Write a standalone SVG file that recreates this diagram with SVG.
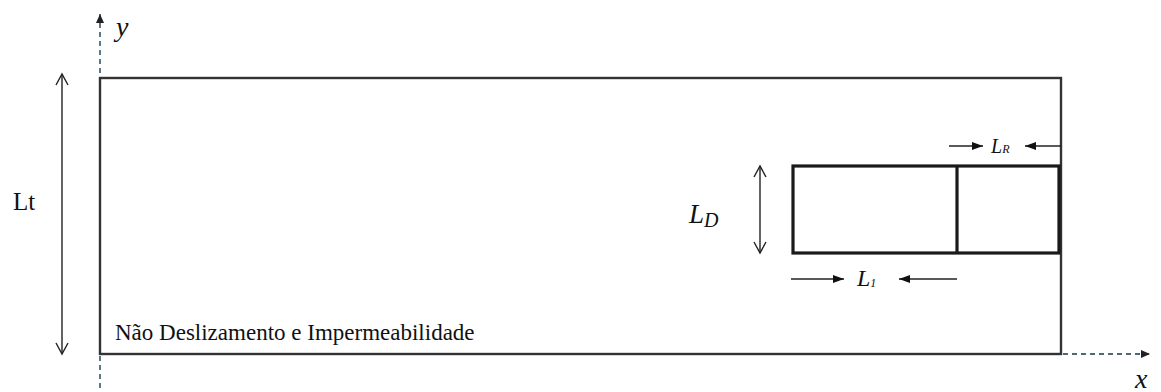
<svg xmlns="http://www.w3.org/2000/svg" width="1161" height="392" viewBox="0 0 1161 392">
<style>
.it{font-style:italic}
.axis{stroke:#4a6a7a;stroke-width:1.8;stroke-dasharray:5,4;fill:none}
.dim{stroke:#222;stroke-width:1.4;fill:none}
.box{stroke:#1a1a1a;stroke-width:3.2;fill:none}
</style>
<defs>
<marker id="open" markerWidth="14" markerHeight="14" refX="12" refY="7" orient="auto-start-reverse" markerUnits="userSpaceOnUse">
<path d="M1,1 L12,7 L1,13" fill="none" stroke="#222" stroke-width="1.4"/>
</marker>
<marker id="solid" markerWidth="12" markerHeight="10" refX="11" refY="5" orient="auto" markerUnits="userSpaceOnUse">
<path d="M0,1 L11,5 L0,9 Z" fill="#111"/>
</marker>
<marker id="axhead" markerWidth="10" markerHeight="10" refX="9" refY="5" orient="auto" markerUnits="userSpaceOnUse">
<path d="M0,1 L9,5 L0,9 Z" fill="#222"/>
</marker>
</defs>
<g font-family="'Liberation Serif', 'DejaVu Serif', serif" fill="#111">
<g id="axes">
<line class="axis" x1="100" y1="388" x2="100" y2="14" marker-end="url(#axhead)"/>
<line class="axis" x1="100" y1="354" x2="1150" y2="354" marker-end="url(#axhead)"/>
<text class="it" x="116" y="36" font-size="28">y</text>
<text class="it" x="1135" y="388" font-size="28">x</text>
</g>
<g id="domain">
<rect x="100" y="78" width="961" height="276" fill="none" stroke="#333" stroke-width="2.4"/>
<text x="115" y="340" font-size="23">Não Deslizamento e Impermeabilidade</text>
</g>
<g id="body">
<rect class="box" x="793" y="166" width="266" height="87"/>
<line class="box" x1="957" y1="166" x2="957" y2="253"/>
</g>
<g id="connectors">
<line class="dim" x1="62" y1="74" x2="62" y2="354" marker-start="url(#open)" marker-end="url(#open)"/>
<line class="dim" x1="760" y1="166" x2="760" y2="253" marker-start="url(#open)" marker-end="url(#open)"/>
<line class="dim" x1="791" y1="279" x2="844" y2="279" marker-end="url(#solid)"/>
<line class="dim" x1="957" y1="279" x2="899" y2="279" marker-end="url(#solid)"/>
<line class="dim" x1="949" y1="146" x2="983" y2="146" marker-end="url(#solid)"/>
<line class="dim" x1="1061" y1="146" x2="1025" y2="146" marker-end="url(#solid)"/>
</g>
<g id="labels">
<text x="13" y="210" font-size="25">Lt</text>
<text class="it" x="689" y="223" font-size="27">L<tspan font-size="20" dy="4">D</tspan></text>
<text class="it" x="857" y="286" font-size="24">L<tspan font-size="12" dy="1">1</tspan></text>
<text class="it" x="991" y="153" font-size="20">L<tspan font-size="12" dy="0">R</tspan></text>
</g>
</g>
</svg>
